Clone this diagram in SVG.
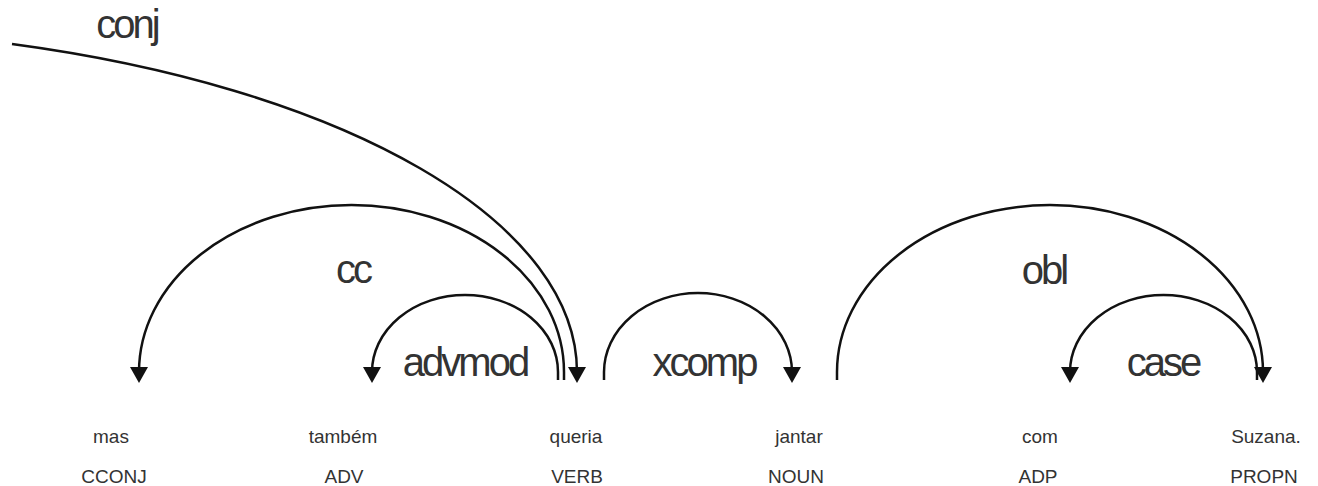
<svg xmlns="http://www.w3.org/2000/svg" width="1318" height="486" viewBox="0 0 1318 486">
<style>
.arc{fill:none;stroke:#111;stroke-width:2.5}
.head{fill:#111}
.lbl{font-family:"Liberation Sans",Arial,sans-serif;font-size:40px;letter-spacing:-3px;fill:#333;text-anchor:middle}
.word{font-family:"Liberation Sans",Arial,sans-serif;font-size:19px;fill:#333;text-anchor:middle}
</style>
<rect width="1318" height="486" fill="#fff"/>
<g id="connectors">
<path class="arc" d="M12,44 A806,344 0 0 1 577,372"/>
<path class="arc" d="M564,380 V372 A212.5,167 0 0 0 139,372"/>
<path class="arc" d="M558,380 V372 A93,77 0 0 0 372,372"/>
<path class="arc" d="M604,380 V372 A94,79 0 0 1 792,372"/>
<path class="arc" d="M837,380 V372 A213,167 0 0 1 1263,372"/>
<path class="arc" d="M1257,380 V372 A93.5,77 0 0 0 1070,372"/>
<polygon class="head" points="130,367 148,367 139,383"/>
<polygon class="head" points="363,367 381,367 372,383"/>
<polygon class="head" points="568,367 586,367 577,383"/>
<polygon class="head" points="783,367 801,367 792,383"/>
<polygon class="head" points="1061,367 1079,367 1070,383"/>
<polygon class="head" points="1254,367 1272,367 1263,383"/>
<text class="lbl" x="127" y="38">conj</text>
<text class="lbl" x="353" y="283">cc</text>
<text class="lbl" x="465" y="376">advmod</text>
<text class="lbl" x="704" y="376">xcomp</text>
<text class="lbl" x="1044" y="284">obl</text>
<text class="lbl" x="1163" y="376">case</text>
</g>
<g id="n-mas"><text class="word" x="111" y="443">mas</text><text class="word" x="114" y="483">CCONJ</text></g>
<g id="n-tambem"><text class="word" x="343" y="443">também</text><text class="word" x="344" y="483">ADV</text></g>
<g id="n-queria"><text class="word" x="576" y="443">queria</text><text class="word" x="577" y="483">VERB</text></g>
<g id="n-jantar"><text class="word" x="799" y="443">jantar</text><text class="word" x="796" y="483">NOUN</text></g>
<g id="n-com"><text class="word" x="1040" y="443">com</text><text class="word" x="1038" y="483">ADP</text></g>
<g id="n-suzana"><text class="word" x="1266" y="443">Suzana.</text><text class="word" x="1264" y="483">PROPN</text></g>
</svg>
